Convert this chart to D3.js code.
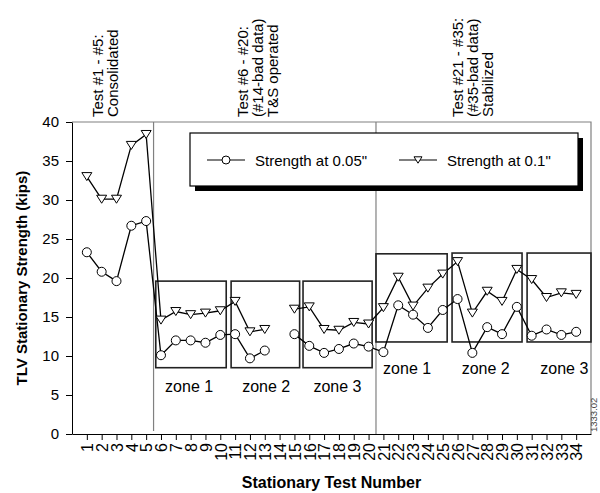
<!DOCTYPE html>
<html lang="en">
<head>
  <meta charset="UTF-8">
  <title>TLV Stationary Strength</title>
  <script src="https://d3js.org/d3.v7.min.js"></script>
  <style>
    body {
      margin: 0;
      padding: 0;
      background: #fff;
      font-family: "Liberation Sans", Arial, sans-serif;
    }
    svg text { font-family: "Liberation Sans", Arial, sans-serif; fill: #000; }
    .axis path, .axis line { stroke: #000; stroke-width: 1; }
  </style>
</head>
<body>
  <div id="chart"></div>

  <script>
    // test numbers on the x axis
    const tests = d3.range(1, 35);
    const tickLabels = tests.map(String);

    // strength (kips), test #14 is bad data
    const strength005 = [23.3, 20.8, 19.6, 26.7, 27.3, 10.1, 12.0, 12.0, 11.7, 12.7,
                         12.8, 9.7, 10.7, null, 12.8, 11.3, 10.4, 10.9, 11.6, 11.2,
                         10.5, 16.5, 15.3, 13.6, 15.9, 17.3, 10.4, 13.7, 12.8, 16.3,
                         12.6, 13.4, 12.7, 13.1];
    const strength01 = [33.0, 30.1, 30.1, 37.0, 38.4, 14.6, 15.7, 15.3, 15.5, 15.8,
                        17.0, 13.1, 13.4, null, 16.0, 16.3, 13.4, 13.3, 14.3, 14.1,
                        16.2, 20.1, 16.4, 18.7, 20.5, 22.1, 15.5, 18.3, 17.0, 21.1,
                        19.8, 17.5, 18.1, 17.9];
    const seriesNames = ['Strength at 0.05"', 'Strength at 0.1"'];

    const yTicks = [0, 5, 10, 15, 20, 25, 30, 35, 40];

    // zone boxes in data units (test number / kips)
    const zoneNames = ["zone 1", "zone 2", "zone 3", "zone 1", "zone 2", "zone 3"];
    const zoneStart = [5.65, 10.73, 15.58, 20.5, 25.63, 30.69];
    const zoneEnd = [10.4, 15.35, 20.24, 25.3, 30.35, 35.0];
    const zoneLow = [8.5, 8.5, 8.5, 11.8, 11.8, 11.8];
    const zoneHigh = [19.6, 19.6, 19.6, 23.1, 23.2, 23.2];
    const zoneLabelX = [7.9, 13.1, 17.9, 22.6, 27.9, 33.2];
    const zoneLabelY = [5.4, 5.4, 5.4, 7.7, 7.7, 7.7];

    // phase separators and the notes above them
    const separators = [5.5, 20.5];
    const phaseAt = [2.1, 11.9, 26.4];
    const phaseNotes = [
      ["Test #1 - #5:", "Consolidated"],
      ["Test #6 - #20:", "(#14-bad data)", "T&S operated"],
      ["Test #21 - #35:", "(#35-bad data)", "Stabilized"]
    ];

    const width = 600, height = 493;
    const plotLeft = 72, plotRight = 591, plotTop = 122, plotBottom = 434;

    const svg = d3.select("#chart").append("svg")
      .attr("width", width)
      .attr("height", height);

    const x = d3.scaleLinear().domain([0, 35]).range([plotLeft, plotRight]);
    const y = d3.scaleLinear().domain([0, 40]).range([plotBottom, plotTop]);

    // plot area border (top and right)
    svg.append("path")
      .attr("d", `M${plotLeft},${plotTop}H${plotRight}V${plotBottom}`)
      .attr("fill", "none")
      .attr("stroke", "#808080")
      .attr("stroke-width", 1.2);

    // phase separators
    svg.selectAll(".sep")
      .data(separators)
      .join("line")
      .attr("class", "sep")
      .attr("x1", d => x(d)).attr("x2", d => x(d))
      .attr("y1", y(40)).attr("y2", (d, i) => i === 0 ? y(0.4) : y(0))
      .attr("stroke", "#808080")
      .attr("stroke-width", 1.2);

    // zone boxes
    svg.selectAll(".zone")
      .data(zoneNames)
      .join("rect")
      .attr("class", "zone")
      .attr("x", (d, i) => x(zoneStart[i]))
      .attr("y", (d, i) => y(zoneHigh[i]))
      .attr("width", (d, i) => x(zoneEnd[i]) - x(zoneStart[i]))
      .attr("height", (d, i) => y(zoneLow[i]) - y(zoneHigh[i]))
      .attr("fill", "none")
      .attr("stroke", "#222")
      .attr("stroke-width", 1.6);

    svg.selectAll(".zoneLabel")
      .data(zoneNames)
      .join("text")
      .attr("class", "zoneLabel")
      .attr("x", (d, i) => x(zoneLabelX[i]))
      .attr("y", (d, i) => y(zoneLabelY[i]))
      .attr("text-anchor", "middle")
      .style("font-size", "16px")
      .text(d => d);

    // axes
    const yAxis = svg.append("g")
      .attr("class", "axis")
      .attr("transform", `translate(${plotLeft},0)`)
      .call(d3.axisLeft(y).tickValues(yTicks).tickSize(6).tickPadding(7).tickSizeOuter(0));
    yAxis.selectAll("text").style("font-size", "15px");

    const xAxis = svg.append("g")
      .attr("class", "axis")
      .attr("transform", `translate(0,${plotBottom})`)
      .call(d3.axisBottom(x).tickValues(tests).tickSize(6).tickSizeOuter(0)
        .tickFormat((d, i) => tickLabels[i]));
    xAxis.selectAll("text")
      .attr("transform", "rotate(-90)")
      .attr("x", -9)
      .attr("y", 0)
      .attr("dy", "0.36em")
      .attr("text-anchor", "end")
      .style("font-size", "16px");

    svg.append("text")
      .attr("transform", `translate(27,${(plotTop + plotBottom) / 2}) rotate(-90)`)
      .attr("text-anchor", "middle")
      .style("font-size", "15px")
      .style("font-weight", "bold")
      .text("TLV Stationary Strength (kips)");

    svg.append("text")
      .attr("x", (plotLeft + plotRight) / 2)
      .attr("y", 488)
      .attr("text-anchor", "middle")
      .style("font-size", "16px")
      .style("font-weight", "bold")
      .text("Stationary Test Number");

    // notes above the plot
    phaseNotes.forEach((lines, g) => {
      lines.forEach((t, k) => {
        svg.append("text")
          .attr("transform", `translate(${x(phaseAt[g]) + k * 15},${plotTop - 5}) rotate(-90)`)
          .style("font-size", "15px")
          .text(t);
      });
    });

    svg.append("text")
      .attr("transform", `translate(597,${plotBottom - 2}) rotate(-90)`)
      .style("font-size", "9.5px")
      .style("fill", "#444")
      .text("1333.02");

    // legend
    const lg = svg.append("g");
    lg.append("rect")
      .attr("x", 195).attr("y", 138).attr("width", 388).attr("height", 53)
      .attr("fill", "#000");
    lg.append("rect")
      .attr("x", 190).attr("y", 133).attr("width", 388).attr("height", 53)
      .attr("fill", "#fff").attr("stroke", "#000").attr("stroke-width", 1.2);

    const triPath = s => `M${-s},${-s * 0.8}L${s},${-s * 0.8}L0,${s * 0.8}Z`;

    const legendX = [207, 399];
    seriesNames.forEach((name, i) => {
      const lx = legendX[i];
      lg.append("line")
        .attr("x1", lx).attr("x2", lx + 38)
        .attr("y1", 160).attr("y2", 160)
        .attr("stroke", "#000").attr("stroke-width", 1.2);
      if (i === 0) {
        lg.append("circle").attr("cx", lx + 19).attr("cy", 160).attr("r", 4)
          .attr("fill", "#fff").attr("stroke", "#000");
      } else {
        lg.append("path").attr("transform", `translate(${lx + 19},160)`)
          .attr("d", triPath(4)).attr("fill", "#fff").attr("stroke", "#000");
      }
      lg.append("text")
        .attr("x", lx + 48).attr("y", 165.5)
        .style("font-size", "15px")
        .text(name);
    });

    // series
    const line = d3.line()
      .defined(d => d[1] != null)
      .x(d => x(d[0]))
      .y(d => y(d[1]));

    [strength005, strength01].forEach(vals => {
      svg.append("path")
        .datum(tests.map((t, i) => [t, vals[i]]))
        .attr("d", line)
        .attr("fill", "none")
        .attr("stroke", "#000")
        .attr("stroke-width", 1.3);
    });

    svg.selectAll(".pt05")
      .data(tests.filter((t, i) => strength005[i] != null))
      .join("circle")
      .attr("class", "pt05")
      .attr("cx", d => x(d))
      .attr("cy", d => y(strength005[d - 1]))
      .attr("r", 4.5)
      .attr("fill", "#fff")
      .attr("stroke", "#000");

    svg.selectAll(".pt01")
      .data(tests.filter((t, i) => strength01[i] != null))
      .join("path")
      .attr("class", "pt01")
      .attr("transform", d => `translate(${x(d)},${y(strength01[d - 1])})`)
      .attr("d", triPath(5))
      .attr("fill", "#fff")
      .attr("stroke", "#000");
  </script>
</body>
</html>
